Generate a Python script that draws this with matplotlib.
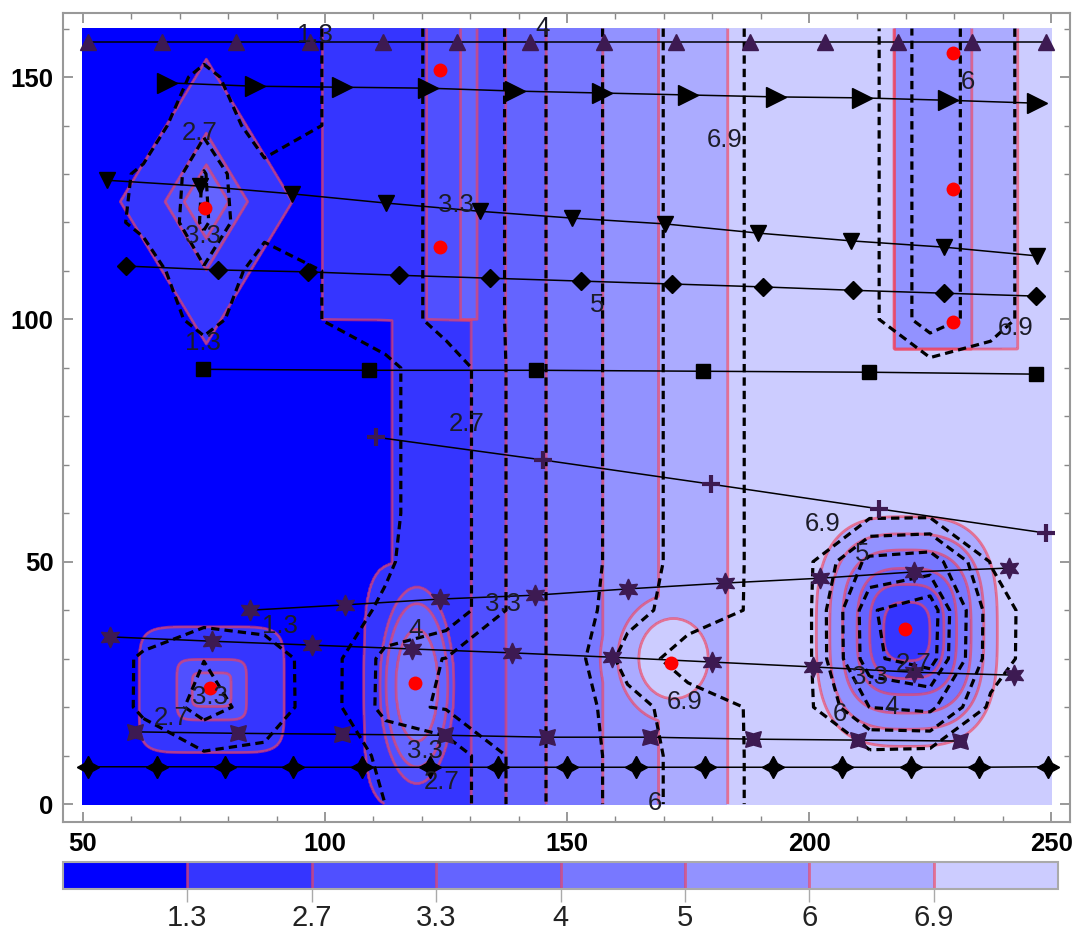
import numpy as np
import matplotlib

matplotlib.use("Agg")
import matplotlib.pyplot as plt
from matplotlib.ticker import MultipleLocator

# contour levels and band colours (darkest = lowest)
LEVELS = [1.3, 2.7, 3.3, 4, 5, 6, 6.9]
LEVEL_LABELS = ["1.3", "2.7", "3.3", "4", "5", "6", "6.9"]
BAND_COLORS = ["#0000ff", "#3535ff", "#5050ff", "#6464ff",
               "#7878ff", "#9292ff", "#ababff", "#ccccff"]

# field: column profile above / below y = 99.8
STEP_Y = 99.8
UPPER_X = [50, 97.0, 99.4, 121.0, 128.0, 129.6, 131.4, 134.2, 137.4, 145.7, 157.4, 168.9, 183.1, 250]
UPPER_Z = [0.5, 0.6, 1.3, 2.7, 3.3, 3.4, 3.3, 3.2, 3.3, 4.0, 5.0, 6.0, 6.9, 7.5]
LOWER_X = [50, 111.0, 113.8, 130.2, 137.4, 145.7, 157.4, 168.9, 183.1, 250]
LOWER_Z = [0.5, 0.6, 1.3, 2.7, 3.3, 4.0, 5.0, 6.0, 6.9, 7.5]

# low rectangle top right
RECT_X = [217.7, 233.7, 243.2]
RECT_Y0 = 94.0
RECT_Z = [5.5, 6.5]

# bumps (value rises toward centre)
BUMP_X = [75.5, 76.6, 119.0, 119.0, 172.0]
BUMP_Y = [124.3, 23.6, 24.5, 24.5, 30.0]
BUMP_A = [17.8, 15.0, 7.7, 11.0, 7.2]
BUMP_B = [29.4, 13.0, 20.3, 25.5, 8.3]
BUMP_P = [1.0, 6.0, 2.0, 4.0, 2.0]
BUMP_D = [[0, 0.26, 0.48, 1.0, 1.3],
          [0, 0.27, 0.48, 1.0, 1.3],
          [0, 0.57, 0.83, 1.0, 1.2],
          [0, 1.0, 1.2],
          [0, 1.0, 1.6, 2.6, 3.5]]
BUMP_V = [[3.7, 3.3, 2.7, 1.3, 0.0],
          [3.7, 3.3, 2.7, 1.3, 0.0],
          [4.5, 4.0, 3.3, 2.7, 0.0],
          [2.0, 1.3, 0.0],
          [7.6, 6.9, 6.0, 4.0, 0.0]]

# pit (value drops toward centre)
DIP_X, DIP_Y = 220.2, 35.6
DIP_A, DIP_B, DIP_P = 18.7, 23.7, 3.0
DIP_D = [0, 0.255, 0.41, 0.55, 0.71, 0.85, 1.0, 1.3]
DIP_V = [2.0, 2.7, 3.3, 4.0, 5.0, 6.0, 6.9, 9.0]

# red points
DOT_X = [75.2, 123.8, 123.8, 229.8, 229.8, 229.8, 76.2, 118.6, 171.5, 219.8]
DOT_Y = [123.0, 151.4, 114.9, 154.9, 126.9, 99.4, 23.9, 25.0, 29.1, 36.1]

# line series
TRI_UP_X = [51.0, 66.3, 81.6, 96.9, 112.0, 127.3, 142.4, 157.6, 172.5, 187.8, 203.3, 218.4, 233.7, 249.0]
TRI_UP_Y = [157.2] * 14
TRI_RIGHT_X = [67.4, 85.5, 103.5, 121.3, 139.3, 157.2, 175.0, 193.2, 210.9, 228.7, 247.1]
TRI_RIGHT_Y = [148.8, 148.1, 147.9, 147.7, 147.1, 146.7, 146.3, 145.9, 145.7, 145.2, 144.6]
TRI_DOWN_X = [55.0, 74.2, 93.2, 112.6, 132.0, 151.0, 170.2, 189.5, 208.7, 227.9, 247.1]
TRI_DOWN_Y = [128.7, 127.5, 125.9, 124.0, 122.3, 120.9, 119.7, 117.8, 116.2, 114.9, 113.1]
DIAMOND_X = [58.9, 77.9, 96.5, 115.3, 134.1, 152.9, 171.7, 190.5, 209.1, 227.9, 246.9]
DIAMOND_Y = [111.0, 110.2, 109.8, 109.1, 108.5, 107.9, 107.3, 106.7, 106.0, 105.4, 104.8]
SQUARE_X = [74.8, 109.1, 143.6, 178.1, 212.4, 246.9]
SQUARE_Y = [89.7, 89.5, 89.5, 89.3, 89.1, 88.7]
PLUS_X = [110.5, 145.0, 179.8, 214.5, 249.0]
PLUS_Y = [75.7, 71.0, 66.0, 60.9, 55.9]
STAR_HI_X = [84.5, 104.1, 123.8, 143.4, 162.6, 182.6, 202.3, 221.7, 241.3]
STAR_HI_Y = [40.0, 41.1, 42.3, 43.1, 44.4, 45.6, 46.6, 47.9, 48.7]
STAR_LO_X = [55.6, 76.7, 97.3, 118.0, 138.6, 159.3, 180.0, 200.8, 221.7, 242.4]
STAR_LO_Y = [34.5, 33.6, 32.8, 32.0, 31.2, 30.3, 29.3, 28.3, 27.2, 26.6]
CROSS_X = [60.7, 82.0, 103.5, 124.8, 145.9, 167.1, 188.4, 210.1, 231.2]
CROSS_Y = [14.9, 14.6, 14.4, 14.2, 13.8, 13.8, 13.4, 13.2, 13.0]
STAR4_X = [51.0, 65.3, 79.3, 93.4, 107.6, 121.7, 135.7, 150.0, 164.3, 178.5, 192.6, 206.8, 221.1, 235.1, 249.4]
STAR4_Y = [7.7, 7.7, 7.7, 7.6, 7.6, 7.6, 7.6, 7.6, 7.6, 7.6, 7.6, 7.6, 7.6, 7.6, 7.7]

X_TICKS = [50, 100, 150, 200, 250]
Y_TICKS = [0, 50, 100, 150]

PURPLE = "#3d1a52"


def norm_dist(X, Y, cx, cy, a, b, p):
    return ((np.abs(X - cx) / a) ** p + (np.abs(Y - cy) / b) ** p) ** (1.0 / p)


def field(X, Y):
    Z = np.where(Y >= STEP_Y, np.interp(X, UPPER_X, UPPER_Z), np.interp(X, LOWER_X, LOWER_Z))
    in_rect = (X >= RECT_X[0]) & (X <= RECT_X[2]) & (Y >= RECT_Y0)
    Z = np.where(in_rect, np.where(X < RECT_X[1], RECT_Z[0], RECT_Z[1]), Z)
    for cx, cy, a, b, p, dk, vk in zip(BUMP_X, BUMP_Y, BUMP_A, BUMP_B, BUMP_P, BUMP_D, BUMP_V):
        Z = np.maximum(Z, np.interp(norm_dist(X, Y, cx, cy, a, b, p), dk, vk))
    d = norm_dist(X, Y, DIP_X, DIP_Y, DIP_A, DIP_B, DIP_P)
    Z = np.minimum(Z, np.interp(d, DIP_D, DIP_V))
    return Z


def main() -> None:
    plt.rcParams["font.family"] = ["Liberation Sans", "DejaVu Sans"]
    fig = plt.figure(figsize=(10.76, 9.32), dpi=100)
    ax = fig.add_axes([0.0586, 0.1180, 0.9358, 0.8680])

    X, Y = np.meshgrid(np.linspace(50, 250, 801), np.linspace(0, 160, 641))
    Z = field(X, Y)
    bounds = [0.0] + LEVELS + [10.0]
    cf = ax.contourf(X, Y, Z, levels=bounds, colors=BAND_COLORS, zorder=1)
    cs = ax.contour(X, Y, Z, levels=LEVELS, colors="#f0405a", linewidths=2.0, alpha=0.65, zorder=2)

    # coarser copy of the field for the dashed set
    CXg, CYg = np.meshgrid(np.arange(50, 250.1, 12.5), np.arange(0, 160.1, 10))
    ax.contour(CXg, CYg, field(CXg, CYg), levels=LEVELS, colors="black",
               linewidths=2.3, linestyles=[(0, (2.6, 1.6))], zorder=3)

    ax.plot(TRI_UP_X, TRI_UP_Y, "-", color="black", lw=1.1, marker="^", ms=12,
            mfc=PURPLE, mec=PURPLE, zorder=4)
    ax.plot(TRI_RIGHT_X, TRI_RIGHT_Y, "-", color="black", lw=1.1, marker=">", ms=14, zorder=4)
    ax.plot(TRI_DOWN_X, TRI_DOWN_Y, "-", color="black", lw=1.1, marker="v", ms=12, zorder=4)
    ax.plot(DIAMOND_X, DIAMOND_Y, "-", color="black", lw=1.1, marker="D", ms=9, zorder=4)
    ax.plot(SQUARE_X, SQUARE_Y, "-", color="black", lw=1.1, marker="s", ms=10, zorder=4)
    ax.plot(PLUS_X, PLUS_Y, "-", color="black", lw=1.1, marker="+", ms=13, mew=3,
            mec=PURPLE, zorder=4)
    ax.plot(STAR_HI_X, STAR_HI_Y, "-", color="black", lw=1.1, marker=(6, 1, 0), ms=15,
            mfc=PURPLE, mec=PURPLE, zorder=4)
    ax.plot(STAR_LO_X, STAR_LO_Y, "-", color="black", lw=1.1, marker=(6, 1, 0), ms=15,
            mfc=PURPLE, mec=PURPLE, zorder=4)
    ax.plot(CROSS_X, CROSS_Y, "-", color="black", lw=1.1, marker=(4, 1, 45), ms=16,
            mfc=PURPLE, mec=PURPLE, zorder=4)
    ax.plot(STAR4_X, STAR4_Y, "-", color="black", lw=1.1, marker=(4, 1, 0), ms=16, zorder=4)
    ax.plot(DOT_X, DOT_Y, "o", color="#ff0000", ms=10, mec="none", zorder=5)

    # contour labels as placed in the original
    for txt, lx, ly in [
        ("1.3", 97.9, 158.7), ("4", 145.0, 160.1), ("6", 232.9, 149.0),
        ("2.7", 74.2, 138.4), ("6.9", 182.6, 137.0), ("3.3", 127.1, 123.6),
        ("3.3", 74.8, 117.2), ("5", 156.2, 102.9), ("6.9", 242.6, 98.2),
        ("1.3", 74.8, 95.1), ("2.7", 129.3, 78.4), ("6.9", 202.9, 57.8),
        ("5", 211.0, 51.6), ("3.3", 136.8, 41.3), ("1.3", 90.7, 36.7),
        ("4", 118.8, 35.9), ("2.7", 221.5, 29.0), ("3.3", 76.2, 22.1),
        ("6.9", 174.4, 21.0), ("3.3", 212.5, 26.2), ("4", 217.0, 20.0),
        ("2.7", 68.4, 17.7), ("6", 206.4, 18.6), ("3.3", 120.7, 11.0),
        ("2.7", 124.0, 4.6), ("6", 168.2, 0.2),
    ]:
        ax.text(lx, ly, txt, fontsize=18.5, color="#1c1c28", ha="center", va="center", zorder=6)

    ax.set_xlim(45.9, 253.9)
    ax.set_ylim(-3.7, 163.2)
    ax.set_xticks(X_TICKS)
    ax.set_xticklabels([str(t) for t in X_TICKS], fontweight="bold")
    ax.set_yticks(Y_TICKS)
    ax.set_yticklabels([str(t) for t in Y_TICKS], fontweight="bold")
    ax.xaxis.set_minor_locator(MultipleLocator(10))
    ax.yaxis.set_minor_locator(MultipleLocator(10))
    ax.tick_params(which="both", direction="in", top=True, right=True, color="#888888")
    ax.tick_params(which="major", length=7, width=1.2, labelsize=18.5, pad=7)
    ax.tick_params(which="minor", length=4, width=1.0)
    for sp in ax.spines.values():
        sp.set_color("#999999")
        sp.set_linewidth(1.5)

    cax = fig.add_axes([0.0586, 0.0461, 0.9247, 0.0290])
    cb = fig.colorbar(cf, cax=cax, orientation="horizontal", spacing="uniform", ticks=LEVELS)
    cb.add_lines(cs)
    cb.set_ticklabels(LEVEL_LABELS)
    cb.outline.set_edgecolor("#aaaaaa")
    cb.outline.set_linewidth(1.5)
    cax.tick_params(direction="out", length=9, width=1.0, color="#aaaaaa",
                    labelsize=21, labelcolor="#222222", pad=2)

    fig.savefig("out.png", dpi=100)
    plt.close(fig)


if __name__ == "__main__":
    main()
